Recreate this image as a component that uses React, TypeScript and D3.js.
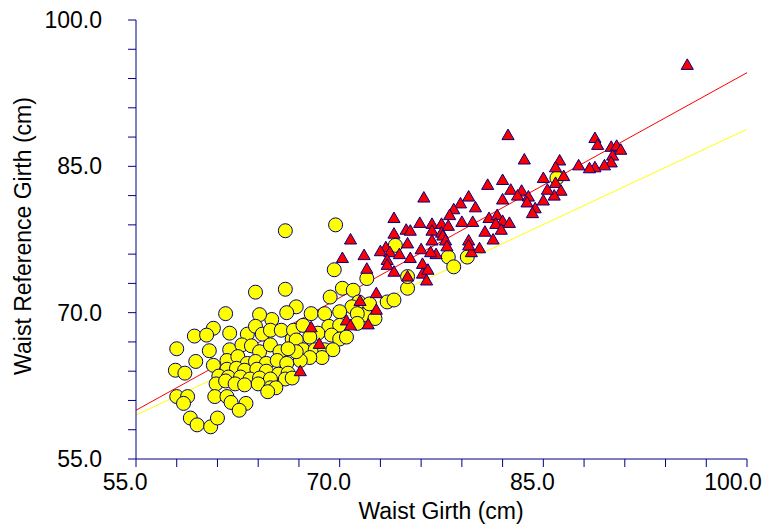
import React from 'react';
import * as d3 from 'd3';

// Yellow circles: [Waist Girth, Waist Reference Girth]
const yellowGroup: [number, number][] = [
  [69.7,79.0],[66.0,78.4],[69.6,74.4],[72.0,73.5],[63.8,72.1],[66.0,72.4],[70.2,72.5],[71.0,72.3],[69.3,71.6],[71.4,71.1],
  [70.9,70.6],[73.5,71.1],[74.0,71.3],[75.0,72.5],[66.8,70.6],[66.1,70.0],[67.9,69.9],[68.9,69.9],[70.0,70.1],[71.9,69.8],
  [72.6,69.4],[71.3,69.9],[72.2,70.9],[65.0,69.3],[64.1,69.8],[61.6,69.9],[60.7,68.4],[59.3,67.6],[60.2,67.7],[61.9,67.9],
  [63.2,67.8],[63.8,68.6],[64.3,67.8],[64.9,68.2],[65.7,68.2],[66.5,67.3],[66.6,68.2],[67.3,68.7],[69.2,68.6],[70.0,68.7],
  [71.3,68.9],[68.4,67.9],[67.8,67.5],[69.4,67.7],[70.0,67.3],[70.5,67.5],[66.8,67.2],[67.3,66.2],[68.2,66.2],[68.9,66.2],
  [69.5,66.2],[68.7,65.4],[67.8,65.4],[67.1,65.1],[66.8,66.0],[58.0,66.3],[60.4,66.1],[61.9,66.2],[62.8,66.7],[63.5,66.6],
  [64.1,66.0],[64.9,66.7],[65.6,66.0],[66.2,66.3],[59.4,65.0],[60.7,64.6],[61.7,65.1],[62.5,65.5],[63.2,64.8],[63.8,65.0],
  [64.6,64.8],[65.4,65.1],[66.1,64.8],[57.9,64.1],[58.6,63.8],[61.7,64.2],[62.4,64.3],[63.0,64.1],[63.9,64.2],[64.6,64.0],
  [65.5,63.7],[66.2,63.8],[61.1,63.5],[61.8,63.4],[62.7,63.4],[63.4,63.2],[64.1,63.3],[64.9,63.2],[66.0,63.2],[66.5,63.3],
  [60.9,62.7],[61.6,63.0],[62.3,62.7],[63.0,62.6],[64.0,62.7],[64.9,62.3],[65.3,62.3],[64.7,61.9],[58.0,61.4],[58.8,61.4],
  [58.5,60.7],[60.8,61.4],[61.7,61.4],[62.0,60.8],[63.1,60.7],[62.6,60.0],[59.0,59.2],[59.5,58.5],[60.5,58.3],[61.0,59.2],
  [86.0,83.8],[78.0,75.7],[78.4,74.7],[79.4,75.7],[74.1,76.9],[75.0,73.7]
];

// Red triangles: [Waist Girth, Waist Reference Girth]
const redGroup: [number, number][] = [
  [95.6,95.4],[88.8,87.9],[89.0,87.2],[90.0,87.0],[90.4,87.1],[90.7,86.7],[90.1,86.1],[90.0,85.4],[89.5,85.1],[88.8,84.9],
  [88.4,84.8],[87.6,85.1],[86.2,85.6],[85.9,84.9],[86.5,84.0],[85.9,83.3],[86.3,82.5],[85.8,82.0],[82.4,88.2],[83.6,85.7],
  [85.0,83.8],[85.3,82.6],[85.0,81.5],[84.4,80.7],[84.2,80.2],[80.9,83.1],[82.0,83.6],[82.6,82.6],[83.4,82.5],[83.1,82.0],
  [82.0,81.6],[83.9,81.9],[83.8,81.3],[79.5,81.9],[78.9,81.2],[80.0,80.8],[78.4,80.6],[78.1,80.0],[79.0,79.3],[79.8,79.3],
  [81.0,79.7],[81.6,80.0],[82.0,79.4],[82.5,79.2],[81.5,79.1],[81.9,78.5],[80.7,78.3],[81.3,77.5],[80.3,76.6],[79.7,76.2],
  [76.2,81.8],[74.0,79.7],[75.9,79.2],[74.9,78.5],[75.2,78.4],[74.0,78.1],[75.0,77.1],[73.4,76.7],[73.0,76.3],[73.7,76.2],
  [74.4,76.0],[75.2,75.6],[73.5,75.4],[73.5,74.9],[76.0,76.5],[76.1,75.0],[76.1,74.0],[76.5,74.4],[76.4,73.3],[74.0,74.2],
  [75.0,73.7],[76.8,79.1],[77.5,79.1],[78.0,78.9],[76.8,78.4],[77.5,78.2],[76.8,77.4],[77.6,77.9],[77.8,77.4],[79.5,77.4],
  [79.5,76.9],[77.9,76.8],[77.1,76.0],[76.7,76.2],[70.8,77.5],[70.2,75.6],[71.8,75.9],[72.0,74.5],[72.7,72.0],[71.5,71.2],
  [72.7,70.3],[70.5,69.2],[70.8,68.7],[72.1,68.8],[67.9,68.5],[68.5,66.8],[67.1,64.0]
];

// Fitted lines (endpoints across x domain)
const redFit: [number, number][] = [[55, 60.0], [100, 94.6]];
const yellowFit: [number, number][] = [[55, 59.5], [100, 88.8]];

const xDomain: [number, number] = [55, 100];
const yDomain: [number, number] = [55, 100];
const tickStep = 3;
const majorTicks = [55, 70, 85, 100];
const xTitle = 'Waist Girth (cm)';
const yTitle = 'Waist Reference Girth (cm)';

const AXIS = '#000080';
const FONT = '"Liberation Sans", Arial, sans-serif';

export default function App() {
  const x = d3.scaleLinear().domain(xDomain).range([136, 747]);
  const y = d3.scaleLinear().domain(yDomain).range([459, 20]);
  const ticks = d3.range(xDomain[0], xDomain[1] + 0.001, tickStep);
  const line = d3.line<[number, number]>().x(d => x(d[0])).y(d => y(d[1]));
  const tri = d3.symbol().type(d3.symbolTriangle).size(64)();

  return (
    <svg width={765} height={528} style={{ position: 'absolute', left: 0, top: 0, background: '#fff' }}
      fontFamily={FONT}>
      <rect width={765} height={528} fill="#fff" />
      <path d={line(redFit) || ''} stroke="#ff0000" strokeWidth={1} fill="none" />
      <path d={line(yellowFit) || ''} stroke="#ffff00" strokeWidth={1} fill="none" />
      {yellowGroup.map((d, i) => (
        <circle key={'c' + i} cx={x(d[0])} cy={y(d[1])} r={7} fill="#ffff00" stroke={AXIS} strokeWidth={1} />
      ))}
      {redGroup.map((d, i) => (
        <path key={'t' + i} d={tri || ''} transform={`translate(${x(d[0])},${y(d[1]) + 1})`} fill="#ff0000" stroke={AXIS} strokeWidth={1} />
      ))}
      {/* axes */}
      <line x1={x(xDomain[0])} x2={x(xDomain[1])} y1={y(yDomain[0])} y2={y(yDomain[0])} stroke={AXIS} strokeWidth={1} />
      <line x1={x(xDomain[0])} x2={x(xDomain[0])} y1={y(yDomain[0])} y2={y(yDomain[1])} stroke={AXIS} strokeWidth={1} />
      {ticks.map(t => (
        <line key={'xt' + t} x1={x(t)} x2={x(t)} y1={y(yDomain[0])} y2={y(yDomain[0]) + 8} stroke={AXIS} strokeWidth={1} />
      ))}
      {ticks.map(t => (
        <line key={'yt' + t} x1={x(xDomain[0]) - 8} x2={x(xDomain[0])} y1={y(t)} y2={y(t)} stroke={AXIS} strokeWidth={1} />
      ))}
      {majorTicks.map(t => {
        const label = t.toFixed(1);
        return (
          <text key={'xl' + t} x={x(t) + (label.length === 5 ? 14.7 : 11.5)} y={490} textAnchor="end" fontSize={23} fill="#000">{label}</text>
        );
      })}
      {majorTicks.map(t => (
        <text key={'yl' + t} x={102} y={y(t)} dy="0.35em" textAnchor="end" fontSize={23} fill="#000">{t.toFixed(1)}</text>
      ))}
      <text x={441} y={519} textAnchor="middle" fontSize={23} fill="#000">{xTitle}</text>
      <text transform={`translate(31,236) rotate(-90)`} textAnchor="middle" fontSize={23} fill="#000">{yTitle}</text>
    </svg>
  );
}
